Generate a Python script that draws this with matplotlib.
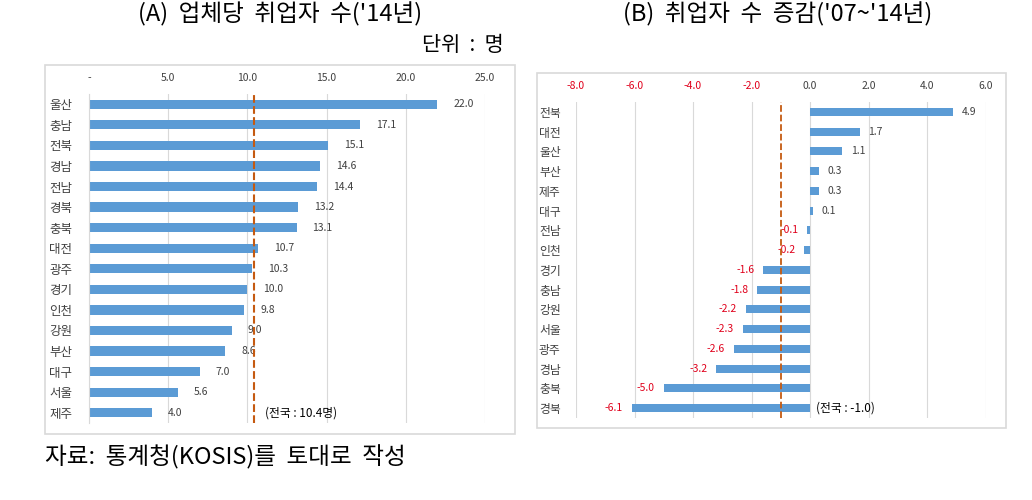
import matplotlib
matplotlib.use("Agg")
import matplotlib.pyplot as plt
from matplotlib.patches import Rectangle

plt.rcParams['font.family'] = ['Noto Sans CJK KR', 'DejaVu Sans']

# (A) 업체당 취업자 수
regions_a = ['울산', '충남', '전북', '경남', '전남', '경북', '충북', '대전',
             '광주', '경기', '인천', '강원', '부산', '대구', '서울', '제주']
values_a = [22.0, 17.1, 15.1, 14.6, 14.4, 13.2, 13.1, 10.7,
            10.3, 10.0, 9.8, 9.0, 8.6, 7.0, 5.6, 4.0]
national_a = 10.4
ticks_a = [0, 5, 10, 15, 20, 25]
ticklabels_a = ['-', '5.0', '10.0', '15.0', '20.0', '25.0']

# (B) 취업자 수 증감
regions_b = ['전북', '대전', '울산', '부산', '제주', '대구', '전남', '인천',
             '경기', '충남', '강원', '서울', '광주', '경남', '충북', '경북']
values_b = [4.9, 1.7, 1.1, 0.3, 0.3, 0.1, -0.1, -0.2,
            -1.6, -1.8, -2.2, -2.3, -2.6, -3.2, -5.0, -6.1]
national_b = -1.0
ticks_b = [-8, -6, -4, -2, 0, 2, 4, 6]

bar_color = '#5B9BD5'
line_color = '#C55A11'
grid_color = '#D9D9D9'
neg_color = '#E0001B'
text_color = '#404040'

fig = plt.figure(figsize=(10.32, 5), dpi=100)

# chart area frames
for (x0, y0, x1, y1) in [(45, 65, 515, 434), (537, 73, 1006, 428)]:
    fig.patches.append(Rectangle((x0 / 1032, 1 - y1 / 500), (x1 - x0) / 1032, (y1 - y0) / 500,
                                 transform=fig.transFigure, fill=False,
                                 edgecolor='#D9D9D9', linewidth=1.2))

# ---- left chart ----
ax1 = fig.add_axes([89 / 1032, 1 - 423 / 500, 396 / 1032, 329 / 500])
ypos = range(len(regions_a))
ax1.barh(ypos, values_a, height=0.45, color=bar_color, zorder=2)
ax1.set_ylim(len(regions_a) - 0.5, -0.5)
ax1.set_xlim(0, 25)
ax1.xaxis.tick_top()
ax1.tick_params(axis='x', length=0, labelsize=7.5, colors=text_color, pad=8)
ax1.set_xticks(ticks_a)
ax1.set_xticklabels(ticklabels_a)
ax1.set_yticks(list(ypos))
ax1.set_yticklabels(regions_a)
ax1.tick_params(axis='y', length=0, labelsize=9, colors=text_color, pad=12)
ax1.grid(axis='x', color=grid_color, linewidth=0.8, zorder=0)
for s in ['top', 'right', 'bottom']:
    ax1.spines[s].set_visible(False)
ax1.spines['left'].set_color(grid_color)
for i, v in enumerate(values_a):
    ax1.text(v + 1.0, i, f'{v:.1f}', va='center', ha='left', fontsize=7.5, color=text_color, zorder=3)
ax1.axvline(national_a, color=line_color, linestyle='--', linewidth=1.5, zorder=4)
ax1.text(national_a + 0.7, len(regions_a) - 1, '(전국 : 10.4명)', va='center', ha='left',
         fontsize=8.5, color='black')

# ---- right chart ----
ax2 = fig.add_axes([576 / 1032, 1 - 418 / 500, 409.5 / 1032, 316 / 500])
ypos = range(len(regions_b))
ax2.barh(ypos, values_b, height=0.4, color=bar_color, zorder=2)
ax2.set_ylim(len(regions_b) - 0.5, -0.5)
ax2.set_xlim(-8, 6)
ax2.xaxis.tick_top()
ax2.tick_params(axis='x', length=0, labelsize=7.5, pad=8)
ax2.set_xticks(ticks_b)
ax2.set_xticklabels([f'{t:.1f}' for t in ticks_b])
for lab, t in zip(ax2.get_xticklabels(), ticks_b):
    lab.set_color(neg_color if t < 0 else text_color)
ax2.set_yticks(list(ypos))
ax2.set_yticklabels(regions_b)
ax2.tick_params(axis='y', length=0, labelsize=8.5, colors=text_color, pad=11)
ax2.grid(axis='x', color=grid_color, linewidth=0.8, zorder=0)
for s in ['top', 'right', 'bottom', 'left']:
    ax2.spines[s].set_visible(False)
for i, v in enumerate(values_b):
    if v >= 0:
        ax2.text(v + 0.3, i, f'{v:.1f}', va='center', ha='left', fontsize=7.5, color=text_color, zorder=3)
    else:
        ax2.text(v - 0.3, i, f'{v:.1f}', va='center', ha='right', fontsize=7.5, color=neg_color, zorder=3)
ax2.axvline(national_b, color=line_color, linestyle='--', linewidth=1.3, zorder=4)
ax2.text(0.2, len(regions_b) - 1, '(전국 : -1.0)', va='center', ha='left',
         fontsize=8.5, color='black')

# titles and notes
fig.text(280 / 1032, 1 - 14 / 500, "(A)  업체당  취업자  수('14년)", ha='center', va='center', fontsize=17)
fig.text(778 / 1032, 1 - 14 / 500, "(B)  취업자  수  증감('07~'14년)", ha='center', va='center', fontsize=17)
fig.text(463 / 1032, 1 - 45 / 500, "단위  :  명", ha='center', va='center', fontsize=15)
fig.text(45 / 1032, 1 - 457 / 500, "자료:  통계청(KOSIS)를  토대로  작성", ha='left', va='center', fontsize=17)

fig.savefig('out.png', dpi=100)
